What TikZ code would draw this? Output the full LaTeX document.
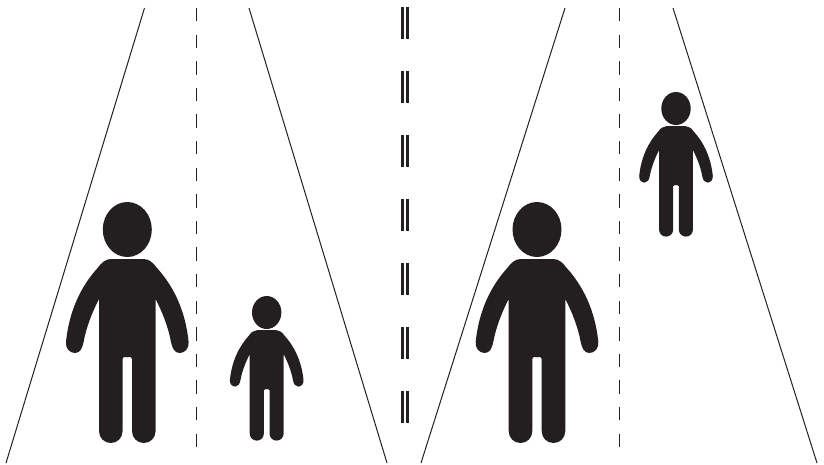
\documentclass[tikz,border=0pt]{standalone}
\usepackage{tikz}
\definecolor{figblack}{HTML}{231F20}
\tikzset{
 person/.pic={
  \fill[figblack] (0,27.5) ellipse [x radius=24.5,y radius=27.5];
  \foreach \side in {1,-1}
   \fill[figblack,xscale=\side] (-1,57) -- (16.3,57)
    .. controls (22,57) and (26,61) .. (29.7,66)
    .. controls (46,84) and (58,108) .. (61.3,139.7)
    .. controls (62,146) and (58,151) .. (52.3,151)
    .. controls (47,151) and (45,146) .. (43.7,140)
    .. controls (41,125) and (35,110) .. (28.3,97)
    -- (28.3,229)
    .. controls (28.3,236) and (23,241) .. (16.5,241)
    .. controls (10,241) and (4.7,236) .. (4.7,229)
    -- (4.7,157)
    .. controls (4.7,155.5) and (3.5,155) .. (2,155)
    -- (-1,155) -- cycle;
 },
 edgeline/.style={figblack,line width=1pt},
 midline/.style={figblack,line width=1pt,dash pattern=on 13.3pt off 13.3pt},
 barline/.style={figblack,line width=3pt}
}
\begin{document}
\begin{tikzpicture}[x=1pt,y=-1pt]
\useasboundingbox (0,0) rectangle (824,464);
% left path
\draw[edgeline] (144.5,8) -- (6,463);
\draw[edgeline] (249,8) -- (387,463);
\draw[midline] (196,8) -- (196,447);
% right path
\draw[edgeline] (565,8) -- (421,463);
\draw[edgeline] (673,8) -- (817,463);
\draw[midline] (619,8) -- (619,447);
% centre marking
\foreach \y in {7,71,135,199,263,327,391} {
 \draw[barline] (402.5,\y) -- (402.5,\y+32);
 \draw[barline] (407.5,\y) -- (407.5,\y+32);
}
% people
\pic at (127.3,202) {person};
\pic[scale=.6] at (266.7,296) {person};
\pic at (537,202) {person};
\pic[scale=.6] at (676,92) {person};
\end{tikzpicture}
\end{document}
